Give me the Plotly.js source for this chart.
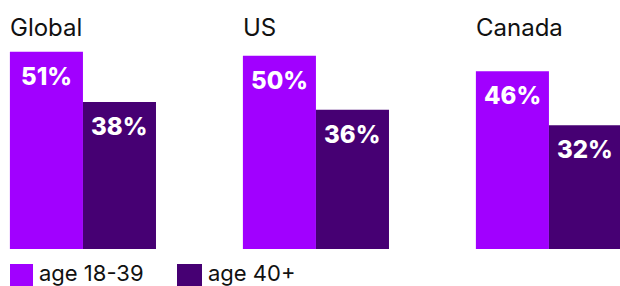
<!DOCTYPE html>
<html>
<head>
<meta charset="utf-8">
<script src="https://cdn.plot.ly/plotly-3.0.1.min.js"></script>
<style>html,body{margin:0;padding:0;background:#fff;}#chart{width:620px;height:286px;}</style>
</head>
<body>
<div id="chart"></div>
<script>
const categories = ["Global", "US", "Canada"];
const seriesNames = ["age 18-39", "age 40+"];
const young = [51, 50, 46];
const older = [38, 36, 32];
const colors = ["#A100FF", "#460073"];

const values = [young, older];
const traces = values.map((vals, i) => ({
  type: "bar",
  name: seriesNames[i],
  x: categories,
  y: vals,
  marker: {color: colors[i], line: {width: 0}},
  hoverinfo: "none",
  showlegend: false
}));

const annotations = [];
const shapes = [];
// group titles
categories.forEach(c => {
  annotations.push({
    x: c, xref: "x", xshift: -75, xanchor: "left",
    y: 1 - 27 / 249, yref: "paper", yanchor: "middle",
    text: c, showarrow: false,
    font: {family: "Inter, Roboto, sans-serif", size: 24, color: "#111"}
  });
});
// value labels
values.forEach((vals, i) => {
  vals.forEach((v, j) => {
    annotations.push({
      x: categories[j], xref: "x", xshift: i === 0 ? -36.5 : 36.5, xanchor: "center",
      y: v, yref: "y", yanchor: "top", yshift: -8,
      text: v + "%", showarrow: false,
      font: {family: "Inter, Roboto, sans-serif", size: 24, color: "#fff", weight: 800}
    });
  });
});
// legend
const legendX = [10, 177];
const legendW = [23, 25];
seriesNames.forEach((n, i) => {
  shapes.push({
    type: "rect", xref: "paper", yref: "paper",
    x0: legendX[i] / 620, x1: (legendX[i] + legendW[i]) / 620,
    y0: (249 - 264) / 249, y1: (249 - 290) / 249,
    fillcolor: colors[i], line: {width: 0}
  });
  annotations.push({
    x: (legendX[i] + legendW[i] + 4) / 620, xref: "paper", xanchor: "left",
    y: (249 - 273) / 249, yref: "paper", yanchor: "middle",
    text: n, showarrow: false,
    font: {family: "Inter, Roboto, sans-serif", size: 22, color: "#111"}
  });
});

const layout = {
  width: 620, height: 286,
  margin: {l: 0, r: 0, t: 0, b: 37, pad: 0},
  paper_bgcolor: "#fff", plot_bgcolor: "#fff",
  barmode: "group", bargap: 0.373, bargroupgap: 0,
  xaxis: {type: "category", range: [-0.356, 2.305], visible: false, fixedrange: true},
  yaxis: {range: [0, 64.4], visible: false, fixedrange: true},
  annotations: annotations,
  shapes: shapes,
  showlegend: false
};
Plotly.newPlot("chart", traces, layout, {displayModeBar: false, staticPlot: true});
</script>
</body>
</html>
